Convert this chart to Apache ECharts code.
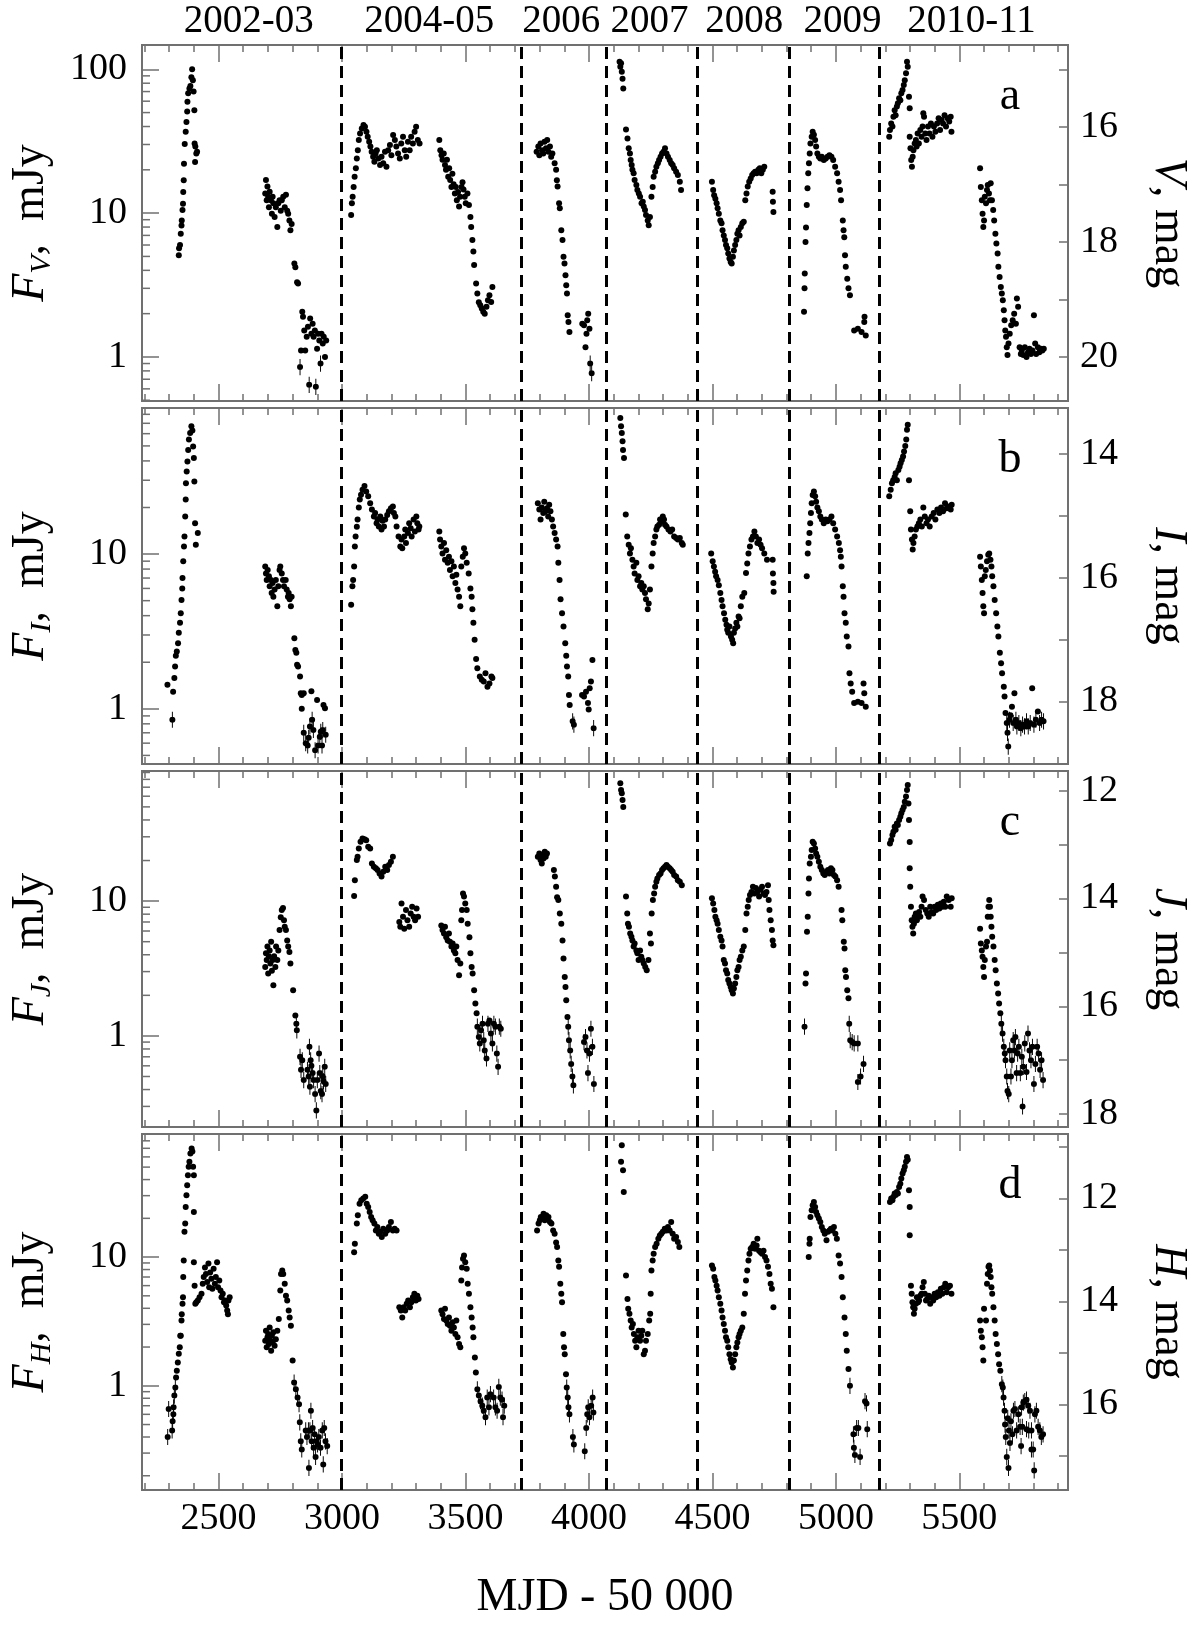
<!DOCTYPE html>
<html><head><meta charset="utf-8">
<script src="https://cdn.jsdelivr.net/npm/echarts@6/dist/echarts.min.js"></script>
<style>html,body{margin:0;padding:0;background:#fff}#c{width:1200px;height:1625px}</style>
</head><body><div id="c"></div>
<script>
// ---------- data: [MJD-50000, flux mJy] ----------
const vFlux = [
[2339,5.1],[2340,5.7],[2344,6.0],[2347,7.2],[2350,8.2],[2351,8.9],[2354,10.5],[2356,11.6],[2357,14],[2359,16.9],[2360,22],[2363,30.2],[2367,36.8],[2370,43],[2373,50.8],[2374,59.5],[2377,68],[2382,73.5],[2386,76.5],[2390,88],[2393,100],[2396,84],[2399,70],[2402,52],[2403,30.5],[2406,29],[2410,26],[2405,22.7],[2413,26.7],
[2689,13.7],[2692,17],[2695,12.3],[2698,15.3],[2701,13],[2704,11],[2707,14.1],[2712,12.3],[2716,9.9],[2719,13],[2722,11.7],[2727,9.4],[2732,11],[2738,8],[2742,11.7],[2747,12.3],[2752,10.4],[2756,12.3],[2762,13],[2768,11],[2773,13.4],[2778,10.4],[2782,9.9],[2787,8.9],[2791,7.6],[2796,8.4],
[2807,4.46],[2811,4.2],[2818,3.3],[2822,3.24],
[2830,0.85],[2834,1.11],[2839,2.06],[2842,1.9],[2847,1.53],[2851,1.11],[2857,1.38],[2862,1.62],[2867,0.64],[2871,1.85],[2876,1.45],[2881,1.7],[2885,1.38],[2890,1.53],[2894,0.62],[2899,1.14],[2903,1.45],[2908,1.3],[2913,0.9],[2917,1.45],[2922,1.24],[2926,1.38],[2931,1.0],[2936,1.3],
[3037,9.7],[3040,11.7],[3043,13],[3047,15.2],[3051,17.9],[3056,20.5],[3060,24],[3064,27.4],[3068,32.2],[3073,35.8],[3080,38.8],[3087,41],[3093,39.9],[3099,36.8],[3104,34],[3110,31.3],[3115,29],[3120,26.7],[3126,24.7],[3131,22.8],[3136,26],[3141,27.4],[3147,24],[3154,21.6],[3160,24.7],[3167,22.2],[3174,26.7],[3180,21],[3187,27.4],[3194,29.7],[3200,25.3],[3207,34.9],[3214,32.2],[3220,29],[3227,26],[3234,24],[3240,30.5],[3247,34],[3254,27.4],[3260,24.7],[3267,31.3],[3274,27.4],[3280,34],[3287,30.5],[3294,36.8],[3300,39.9],[3307,32.2],[3314,30.5],
[3394,32.2],[3398,27.4],[3403,25.3],[3407,23.5],[3412,26],[3417,21.6],[3421,20],[3425,23.5],[3430,17.9],[3434,20.5],[3438,17],[3443,15.2],[3447,18.8],[3452,15.9],[3457,13.7],[3461,15.2],[3465,12.3],[3470,14],[3474,11.1],[3478,13],[3484,15.2],[3488,16.4],[3492,14.6],[3497,13],[3501,11.7],[3508,13.7],[3514,11.4],[3520,9.4],[3523,8.0],[3528,6.5],[3532,5.4],[3535,4.35],[3543,3.24],[3548,2.76],[3554,2.4],[3560,2.29],[3566,2.17],[3572,2.06],[3578,2.0],[3585,2.23],[3591,2.48],[3597,2.69],[3604,2.41],[3609,3.07],
[3788,26.7],[3795,29],[3799,25.3],[3804,30.5],[3810,27.4],[3815,26],[3820,31.3],[3826,28.2],[3831,32.2],[3836,26.7],[3842,29],[3847,24.7],[3852,26],[3861,22.2],[3867,20],[3870,16.9],[3873,15.3],[3879,11.7],[3882,10.8],[3888,7.6],[3893,6.5],[3897,4.97],[3901,4.46],[3905,3.7],[3908,3.15],[3911,2.76],[3914,1.95],[3917,1.75],[3921,1.49],
[3973,1.7],[3980,1.66],[3986,1.17],[3990,1.45],[3993,1.8],[3997,2.0],[4002,1.57],[4005,0.9],[4011,0.77],
[4124,113],[4127,104],[4130,110],[4133,96],[4136,86],[4139,73.5],
[4150,38.2],[4156,33],[4161,28.2],[4166,26],[4169,23.4],[4173,21.6],[4176,20],[4181,18.9],[4185,17],[4192,15.7],[4196,14.5],[4202,13.7],[4207,13],[4213,11.7],[4218,12],[4222,11.1],[4227,10.5],[4231,9.7],[4238,8.9],[4242,8.25],[4247,9.4],[4253,13],[4258,15.2],[4262,17.9],[4268,19.4],[4273,21],[4279,22.2],[4284,23.4],[4290,24.7],[4296,26],[4302,26.7],[4308,28.2],[4314,26],[4320,24.7],[4327,23.4],[4333,22.2],[4339,21.6],[4345,20.5],[4353,19.4],[4360,18.4],[4368,16.5],[4373,14.5],
[4498,16.5],[4503,14.5],[4507,13.3],[4512,12.6],[4517,11.7],[4521,10.8],[4526,9.9],[4532,8.9],[4537,8.5],[4541,7.6],[4546,7.0],[4551,6.5],[4555,6.0],[4560,5.7],[4564,5.24],[4569,4.83],[4574,4.58],[4578,4.46],[4583,4.97],[4587,5.5],[4592,6.0],[4597,6.5],[4601,7.2],[4606,7.6],[4610,7.0],[4615,8.0],[4621,8.5],[4627,8.7],[4633,12.3],[4638,13.7],[4643,15.3],[4649,16.5],[4655,17.4],[4661,18.4],[4667,18.9],[4673,19.4],[4679,18.9],[4686,20],[4692,20.5],[4698,18.9],[4704,20],[4710,21],[4744,14.1],[4745,12],[4747,10.2],
[4871,2.06],[4873,3.0],[4874,3.8],[4877,6.3],[4879,7.95],[4882,11.4],[4885,14.9],[4888,18.9],[4891,22.2],[4894,26],[4897,30.5],[4902,34],[4906,36.8],[4911,35],[4916,32.2],[4920,29],[4925,26],[4931,24.7],[4937,24],[4943,24.7],[4951,23.4],[4959,24],[4966,24.7],[4974,25.3],[4982,24.7],[4989,23.4],[4997,21],[5005,18.9],[5011,16.5],[5017,14.5],[5021,12.3],[5028,8.9],[5031,7.6],[5034,6.8],[5037,5.1],[5040,4.23],[5046,3.5],[5051,3.0],[5057,2.69],[5074,1.53],[5089,1.57],[5104,1.49],[5115,1.75],[5116,1.9],[5121,1.41],
[5216,34],[5219,37.8],[5224,42],[5229,40],[5233,46.8],[5238,52],[5242,48],[5247,55],[5251,58],[5256,62.8],[5261,61],[5265,68],[5270,71.8],[5275,77.8],[5279,84],[5284,94],[5288,113],[5291,104],[5296,64.5],[5299,53.5],
[5299,34],[5302,28.2],[5305,23.4],[5308,21],[5311,24.7],[5314,27.4],[5319,30.5],[5324,32.2],[5327,29],[5331,35.8],[5336,30.5],[5342,37.8],[5347,34],[5351,40],[5354,49.4],[5357,46.8],[5362,35.8],[5367,32.2],[5373,40],[5379,35.8],[5385,42],[5391,34],[5397,40],[5403,36.8],[5410,42],[5416,45.6],[5422,37.8],[5428,44.4],[5434,42],[5440,48],[5446,40],[5452,45.6],[5459,43.3],[5465,46.8],[5468,36.8],
[5584,20.5],[5587,15.2],[5591,12.3],[5594,9.9],[5597,8.0],[5600,8.9],[5603,13],[5608,11.7],[5612,14.5],[5615,15.7],[5620,13.7],[5624,12.3],[5627,16.1],[5632,12.3],[5637,10.5],[5641,8.9],[5646,7.2],[5650,6.15],[5655,5.24],[5658,4.23],[5663,3.6],[5668,3.07],[5672,2.76],[5676,2.48],[5680,2.11],[5683,1.8],[5686,1.53],[5689,1.38],[5692,1.17],[5695,1.03],[5699,1.24],[5704,1.45],[5710,1.66],[5716,1.8],[5722,2.0],[5729,1.7],[5733,2.55],[5738,2.23],[5744,1.17],[5749,1.05],[5753,1.11],[5759,1.03],[5765,1.17],[5772,1.0],[5778,1.08],[5784,1.14],[5790,1.05],[5796,1.11],[5802,1.95],[5807,1.24],[5811,1.05],[5818,1.17],[5824,1.08],[5830,1.14],[5836,1.11],[5842,1.14]
];
const iFlux = [
[2293,1.43],[2313,0.85],[2316,1.29],[2321,1.58],[2324,1.88],[2327,2.2],[2331,2.35],[2336,2.65],[2339,3.1],[2344,3.6],[2347,4.15],[2350,5.05],[2353,6.0],[2354,7.0],[2357,9.0],[2360,11.2],[2362,13],[2365,17.5],[2367,22.5],[2368,28.7],[2371,34.2],[2374,39.7],[2377,47],[2380,55],[2385,60.5],[2390,67],[2394,63],[2397,49.5],[2400,41.8],[2402,29.5],[2405,15.8],[2408,11.5],[2416,13.7],
[2689,8.3],[2692,7.5],[2695,6.8],[2699,7.9],[2704,7.2],[2707,6.2],[2712,6.8],[2715,5.6],[2719,6.5],[2722,5.3],[2727,5.9],[2732,6.8],[2738,4.6],[2742,6.2],[2747,7.9],[2750,8.3],[2756,7.5],[2761,6.8],[2765,6.2],[2772,6.8],[2776,5.9],[2781,5.3],[2784,5.6],[2788,5.1],[2793,4.6],[2796,5.3],
[2807,2.86],[2811,2.4],[2815,2.3],[2818,1.93],[2822,1.88],[2830,1.62],[2833,1.26],[2837,1.23],[2845,1.26],
[2837,1.0],[2845,0.7],[2853,0.6],[2861,0.58],[2865,0.65],[2870,0.77],[2876,1.3],[2879,0.85],[2884,0.73],[2891,0.54],[2899,1.14],[2903,0.58],[2910,0.66],[2914,0.71],[2919,0.58],[2922,0.73],[2925,1.06],[2931,1.01],[2934,0.68],
[3037,4.7],[3042,6.2],[3045,6.8],[3049,8.3],[3052,11.2],[3055,13],[3060,15],[3063,16.7],[3068,20],[3072,22.5],[3077,24.2],[3083,26],[3091,27.5],[3098,25.4],[3106,23.6],[3114,21.3],[3121,19.4],[3129,17.5],[3134,18.4],[3140,15.8],[3144,16.7],[3149,15.1],[3155,17.5],[3160,14.4],[3164,16.4],[3170,15.1],[3175,16.7],[3183,17.9],[3190,18.9],[3198,19.8],[3206,20.3],[3210,18.4],[3216,17.5],
[3221,15.1],[3229,13],[3236,11.2],[3241,12.4],[3244,10.9],[3252,13],[3256,14.4],[3259,11.8],[3267,13.7],[3272,15.8],[3278,14.7],[3282,13],[3290,16.7],[3295,14],[3301,17.5],[3305,15.8],[3310,14.4],[3313,15.1],
[3394,14],[3397,12.4],[3402,11.2],[3407,10.1],[3413,11.8],[3417,9.2],[3422,10.6],[3428,8.8],[3433,9.6],[3437,7.9],[3443,9.0],[3448,7.2],[3453,8.3],[3459,6.5],[3463,7.35],[3468,5.9],[3474,5.3],[3479,4.6],[3483,8.3],[3489,9.6],[3494,10.9],[3499,10.1],[3505,8.8],[3513,7.5],[3520,6.0],[3525,5.3],[3528,4.4],[3532,3.6],[3537,2.8],[3543,2.1],[3548,1.83],[3558,1.62],[3566,1.54],[3574,1.5],[3581,1.7],[3589,1.39],[3597,1.46],[3605,1.62],[3609,1.58],
[3793,21.3],[3799,19.4],[3804,16.7],[3809,20],[3815,18.4],[3819,21.8],[3824,18.9],[3830,19.8],[3835,17.5],[3839,20.8],[3844,18.9],[3850,16.7],[3855,15.1],[3861,13.7],[3867,12.4],[3873,11.2],[3876,8.8],[3881,6.8],[3885,5.1],[3891,4.15],[3897,3.4],[3904,2.65],[3908,2.2],[3911,1.88],[3916,1.62],[3919,1.23],[3922,1.06],[3934,0.83],[3939,0.79],
[3972,1.23],[3980,1.2],[3988,1.29],[3996,1.09],[3999,0.99],[4003,1.36],[4008,1.5],[4014,2.07],[4019,0.75],
[4127,75.7],[4130,67],[4133,60.5],[4136,53.5],[4138,47],[4142,41.8],
[4149,18],[4155,13],[4161,11.5],[4166,10.1],[4170,10.9],[4176,9.2],[4181,8.3],[4185,7.5],[4192,8.8],[4196,6.8],[4201,7.2],[4207,6.2],[4212,6.5],[4216,5.9],[4222,6.2],[4227,5.6],[4231,5.1],[4238,4.4],[4242,4.8],[4247,5.9],[4253,8.3],[4258,10.1],[4262,11.8],[4268,13],[4273,14.4],[4277,15.1],[4284,15.5],[4288,16.7],[4293,16.3],[4299,17.5],[4304,16.7],[4308,15.5],[4314,15.1],[4322,14.4],[4330,14],[4337,14.4],[4345,13],[4353,12.7],[4360,12.4],[4368,12.7],[4376,11.8],[4380,11.5],
[4495,10.1],[4501,9.0],[4506,8.3],[4511,7.7],[4515,7.2],[4521,6.8],[4526,6.3],[4532,5.6],[4537,5.05],[4541,4.6],[4547,4.15],[4552,3.76],[4557,3.5],[4560,3.24],[4564,3.1],[4569,3.4],[4575,2.93],[4580,2.8],[4584,2.65],[4587,3.1],[4592,3.3],[4597,3.6],[4601,3.4],[4606,3.95],[4610,3.85],[4615,4.6],[4621,5.3],[4629,5.6],[4636,7.55],[4641,8.7],[4646,10.1],[4652,11.2],[4658,12.4],[4664,13],[4670,14],[4676,13],[4682,11.8],[4689,12.4],[4695,11.5],[4701,10.9],[4710,10.1],[4721,9.2],[4744,9.2],[4745,7.5],[4747,6.5],[4748,5.7],
[4882,7.2],[4886,10.1],[4889,11.8],[4893,13.7],[4896,15.8],[4899,18.4],[4902,21.3],[4906,24.1],[4911,25.4],[4916,23.6],[4920,21.8],[4925,20],[4931,18.9],[4937,17.5],[4943,16.7],[4951,15.8],[4959,16.7],[4966,16.3],[4974,16.7],[4982,17.5],[4989,15.8],[4997,14.4],[5005,13],[5012,11.8],[5017,10.6],[5020,9.6],[5023,8.3],[5028,6.2],[5031,5.3],[5035,4.15],[5040,3.6],[5044,2.93],[5051,2.53],[5055,1.7],[5060,1.46],[5066,1.29],[5074,1.09],[5089,1.11],[5104,1.09],[5112,1.46],[5115,1.26],[5121,1.03],
[5216,23.6],[5222,26],[5227,28.7],[5232,30],[5238,31.5],[5242,33.3],[5247,30],[5253,34.9],[5258,36.7],[5262,38.6],[5267,40.6],[5272,42.7],[5276,46],[5281,50],[5285,55],[5288,63.5],[5291,68.5],[5296,30],[5301,18.9],[5304,14.4],[5308,12.4],[5311,10.7],[5314,11.8],[5319,13],[5324,14.4],[5330,15.1],[5336,15.8],[5342,16.7],[5348,15.1],[5354,20],[5360,17.5],[5367,15.8],[5373,16.7],[5380,15.1],[5388,17.5],[5396,18.4],[5403,16.7],[5411,19.4],[5419,18.4],[5426,20],[5434,18.9],[5442,21.3],[5449,19.8],[5457,20.3],[5465,19.4],[5469,20.8],
[5584,9.6],[5587,8.3],[5591,6.8],[5594,5.6],[5597,4.6],[5600,4.15],[5603,7.2],[5607,7.9],[5612,9.0],[5617,9.9],[5621,10.1],[5626,9.2],[5630,8.3],[5633,7.2],[5638,6.2],[5643,5.05],[5649,4.15],[5654,3.4],[5658,2.93],[5664,2.3],[5669,1.97],[5673,1.7],[5680,1.39],[5683,1.2],[5687,0.94],[5692,0.81],[5695,0.7],[5698,0.57],[5703,0.85],[5707,0.91],[5713,1.03],[5718,0.81],[5723,1.26],[5729,0.85],[5733,0.77],[5741,0.81],[5749,0.75],[5756,0.79],[5764,0.77],[5772,0.83],[5779,0.77],[5787,0.81],[5795,1.36],[5802,0.79],[5810,0.85],[5818,0.96],[5825,0.81],[5833,0.85],[5841,0.83]
];
const jFlux = [
[2689,3.25],[2692,4.1],[2695,3.65],[2698,4.6],[2701,2.9],[2704,3.9],[2707,4.3],[2710,3.45],[2713,5.0],[2716,3.05],[2719,3.65],[2722,2.38],[2725,3.9],[2730,3.25],[2733,4.6],[2738,3.65],[2742,4.3],[2747,6.1],[2752,7.6],[2756,8.6],[2761,8.9],[2765,7.2],[2768,6.45],[2773,6.1],[2778,5.1],[2782,4.6],[2787,4.2],[2791,3.45],[2802,2.18],[2811,1.42],[2815,1.23],[2817,1.1],
[2830,0.70],[2834,0.56],[2839,0.66],[2845,0.47],[2860,0.56],[2865,0.5],[2868,0.83],[2870,0.42],[2873,0.66],[2876,0.6],[2881,0.53],[2885,0.47],[2891,0.37],[2896,0.28],[2900,0.47],[2907,0.74],[2910,0.53],[2914,0.39],[2919,0.37],[2922,0.5],[2925,0.46],[2930,0.59],[2934,0.44],
[3049,10.9],[3052,14.3],[3060,20.2],[3063,21.3],[3068,24.6],[3075,27.6],[3083,29.2],[3091,28.8],[3098,28.3],[3106,25.3],[3114,24.6],[3121,19],[3129,18],[3137,17.5],[3144,17],[3152,16],[3160,15.2],[3167,16.5],[3175,18],[3183,17],[3190,18.5],[3198,19.6],[3206,21.3],
[3232,7.0],[3236,6.45],[3241,9.6],[3247,7.65],[3252,6.25],[3259,8.6],[3265,7.2],[3272,6.45],[3278,8.1],[3284,9.1],[3290,7.65],[3296,7.2],[3302,8.8],[3308,7.65],
[3402,6.6],[3407,6.1],[3413,5.75],[3417,6.45],[3422,5.4],[3428,5.1],[3433,5.75],[3437,5.0],[3443,4.6],[3448,4.85],[3453,4.3],[3459,4.1],[3463,4.6],[3468,3.65],[3474,2.82],[3479,3.45],[3483,7.2],[3486,8.6],[3490,11.4],[3494,10.8],[3499,9.6],[3505,8.6],[3509,6.8],[3516,5.4],[3520,4.1],[3525,3.25],[3529,2.9],[3535,2.18],[3540,1.74],[3545,1.47],[3548,1.17],[3554,0.98],[3558,0.88],[3563,1.1],[3569,1.23],[3574,0.93],[3578,0.78],[3585,0.68],[3591,1.23],[3597,1.3],[3603,1.04],[3609,0.88],[3615,1.23],[3621,1.17],[3627,0.74],[3632,0.59],[3637,1.17],[3643,1.13],
[3793,21.3],[3799,22.6],[3804,20.2],[3809,19],[3812,22],[3816,20.7],[3821,23.2],[3825,21.3],[3830,22.6],[3858,17],[3862,15.2],[3867,12.8],[3871,10.7],[3876,10.2],[3882,8.1],[3888,6.8],[3893,5.1],[3897,3.75],[3902,2.74],[3905,2.31],[3908,1.84],[3913,1.38],[3916,1.17],[3919,0.93],[3924,0.78],[3928,0.62],[3933,0.5],[3937,0.43],
[3980,0.9],[3986,0.98],[3992,0.78],[3996,0.53],[4002,0.74],[4008,1.13],[4014,0.83],[4020,0.44],
[4127,74.8],[4130,66.7],[4133,63],[4136,56.3],[4139,50],
[4150,10.8],[4155,8.1],[4158,6.8],[4162,6.45],[4167,5.75],[4172,5.43],[4176,5.1],[4181,4.6],[4185,4.85],[4192,4.3],[4196,4.1],[4201,3.65],[4207,4.3],[4212,3.87],[4216,3.65],[4222,3.45],[4228,3.25],[4234,3.07],[4241,3.65],[4247,5.75],[4251,4.85],[4254,8.1],[4259,10.2],[4264,11.4],[4268,12.8],[4273,13.9],[4277,14.7],[4284,15.6],[4290,16],[4296,17],[4302,17.5],[4308,18],[4314,18.5],[4320,18],[4327,17.5],[4333,17],[4339,16.5],[4345,15.6],[4353,15.2],[4360,14.3],[4368,13.9],[4376,13.1],
[4498,10.5],[4503,9.6],[4508,8.6],[4512,7.65],[4517,7.2],[4521,6.8],[4526,6.1],[4532,5.43],[4537,5.1],[4541,4.6],[4546,3.65],[4551,3.45],[4555,3.07],[4560,2.9],[4564,2.6],[4569,2.45],[4574,2.31],[4578,2.18],[4583,2.06],[4587,2.25],[4592,2.45],[4597,2.74],[4601,3.07],[4606,3.25],[4610,3.65],[4615,3.87],[4621,4.3],[4627,4.6],[4633,6.1],[4638,8.1],[4643,9.1],[4647,10.2],[4652,11.1],[4658,11.7],[4664,12.8],[4670,11.4],[4676,12.5],[4682,11.7],[4689,10.8],[4695,12.2],[4701,12.8],[4707,11.4],[4713,11.1],[4719,11.7],[4725,13.1],[4728,10.2],[4731,8.6],[4736,7.2],[4741,6.1],[4744,5.1],[4747,4.7],
[4873,1.17],[4877,2.45],[4879,2.9],[4883,5.92],[4886,7.65],[4889,11.4],[4891,14.7],[4894,19],[4899,21.3],[4902,23.9],[4906,27.6],[4911,26.8],[4916,24.6],[4920,22.6],[4925,21.3],[4931,19.6],[4937,18],[4943,17],[4949,16],[4955,15.6],[4962,16.5],[4968,17],[4974,16],[4980,17.5],[4986,17],[4992,15.6],[4998,15.2],[5005,14.3],[5011,12.8],[5023,8.6],[5026,7.2],[5032,5.0],[5035,4.45],[5038,3.07],[5041,2.74],[5046,2.18],[5051,1.9],[5054,1.23],[5058,0.93],[5066,0.9],[5074,0.88],[5089,0.88],[5089,0.455],[5100,0.5],[5112,0.62],
[5219,26.8],[5224,28.4],[5229,30.9],[5233,32.7],[5238,35.6],[5242,33.8],[5247,37.7],[5251,36.7],[5256,40],[5261,42.3],[5265,44.8],[5270,47.4],[5275,50],[5279,54.7],[5284,59.6],[5288,66.7],[5291,72.6],[5294,53],[5296,40],[5299,27.5],[5299,17.5],[5301,12.8],[5304,9.1],[5307,7.2],[5310,6.45],[5313,5.75],[5316,6.8],[5319,7.65],[5324,8.1],[5328,7.2],[5333,7.65],[5337,8.3],[5342,7.65],[5347,9.1],[5351,10.8],[5357,10.2],[5364,8.6],[5370,8.1],[5376,7.65],[5382,9.1],[5388,8.3],[5394,8.1],[5400,9.1],[5406,8.6],[5413,9.4],[5419,8.8],[5425,9.6],[5431,9.1],[5437,9.9],[5443,9.1],[5449,10.8],[5457,10.2],[5465,9.1],[5469,10.5],
[5584,6.25],[5587,4.85],[5591,4.3],[5594,3.87],[5597,3.25],[5600,2.74],[5603,3.65],[5608,4.6],[5612,5.0],[5615,7.65],[5618,9.1],[5621,10.2],[5624,9.1],[5627,7.65],[5630,6.45],[5633,5.43],[5638,4.6],[5643,3.65],[5647,3.07],[5652,2.45],[5657,2.06],[5661,1.74],[5666,1.47],[5670,1.23],[5675,1.04],[5680,0.83],[5684,0.74],[5687,0.66],[5692,0.5],[5695,0.39],[5700,0.37],[5704,0.78],[5709,0.5],[5713,0.66],[5718,0.93],[5723,0.78],[5727,0.98],[5732,0.53],[5736,0.74],[5741,0.83],[5747,0.53],[5753,0.7],[5756,0.3],[5759,0.59],[5765,0.88],[5772,0.54],[5778,1.04],[5784,0.78],[5790,0.66],[5796,0.83],[5802,0.44],[5808,0.62],[5815,0.83],[5821,0.74],[5827,0.56],[5833,0.66],[5839,0.47]
];
const hFlux = [
[2294,0.40],[2298,0.66],[2312,0.45],[2314,0.53],[2317,0.6],[2318,0.68],[2321,0.84],[2325,0.97],[2328,1.16],[2331,1.31],[2335,1.52],[2339,1.77],[2343,1.99],[2345,2.45],
[2347,2.45],[2350,3.21],[2351,3.6],[2354,4.33],[2356,4.88],[2357,7.0],[2359,9.4],[2362,15.7],[2365,18.2],[2367,24.5],[2370,30.2],[2373,36.2],[2376,43.3],[2379,50.3],[2382,55],[2386,63.8],[2391,69.8],[2394,66],[2397,50.3],[2400,43.3],[2400,22.4],
[2400,9.1],[2403,6.0],[2406,4.33],[2410,4.46],[2416,4.6],[2423,4.88],[2431,5.18],[2436,6.2],[2440,7.0],[2445,8.3],[2449,7.4],[2454,6.4],[2459,8.9],[2462,5.84],[2466,7.6],[2471,6.8],[2475,5.67],[2480,8.1],[2485,6.2],[2489,7.0],[2494,9.1],[2498,5.84],[2503,6.58],[2508,5.5],[2512,4.88],[2517,5.18],[2522,4.46],[2526,4.6],[2531,4.2],[2535,3.84],[2538,3.6],[2540,4.6],[2545,4.88],
[2689,2.24],[2692,2.68],[2695,1.99],[2698,2.38],[2701,2.53],[2704,2.11],[2707,2.84],[2710,2.24],[2713,1.87],[2716,2.45],[2719,2.18],[2722,2.6],[2727,2.05],[2732,2.3],[2738,2.68],[2744,3.3],[2750,5.5],[2753,7.4],[2758,7.87],[2762,7.4],[2768,6.2],[2773,5.0],[2778,4.6],[2784,3.84],[2788,3.4],[2793,2.93],[2800,1.57],
[2806,1.06],[2813,0.94],[2820,0.81],[2826,0.72],[2829,0.52],[2833,0.37],[2837,0.32],[2853,0.45],[2858,0.4],[2864,0.45],[2866,0.23],[2870,0.45],[2874,0.64],[2877,0.37],[2881,0.47],[2885,0.33],[2889,0.42],[2893,0.28],[2897,0.37],[2901,0.35],[2906,0.4],[2913,0.33],[2920,0.45],[2924,0.245],[2928,0.47],[2933,0.37],[2940,0.34],
[3049,10.9],[3052,12.7],[3060,18.2],[3064,21.1],[3071,26],[3078,27.6],[3086,28.5],[3094,29.4],[3100,26],[3106,24.5],[3112,22.4],[3118,20.5],[3124,19.3],[3131,18.2],[3137,16.1],[3143,17.1],[3149,15.2],[3155,15.7],[3161,14.3],[3167,16.6],[3175,15.2],[3183,16.1],[3190,17.1],[3198,18.7],[3206,16.1],[3213,16.6],[3221,16.1],
[3232,4.08],[3238,3.84],[3244,3.4],[3250,4.08],[3256,3.84],[3262,4.33],[3268,4.6],[3275,4.08],[3281,4.46],[3287,4.88],[3293,5.18],[3299,4.6],[3305,5.0],[3310,4.72],
[3402,3.84],[3407,3.6],[3413,3.3],[3417,3.96],[3422,3.21],[3428,3.02],[3433,3.4],[3437,2.93],[3443,2.68],[3448,3.11],[3453,2.84],[3459,2.53],[3463,3.21],[3468,2.38],[3474,2.11],[3479,1.99],[3483,6.58],[3486,8.3],[3490,9.7],[3494,10.3],[3499,9.1],[3505,8.1],[3509,6.2],[3514,5.18],[3520,4.08],[3525,3.4],[3529,2.84],[3532,2.38],[3538,1.66],[3542,1.27],[3548,0.94],[3554,0.84],[3561,0.76],[3568,0.70],[3574,0.64],[3581,0.57],[3588,0.81],[3595,0.68],[3601,0.86],[3614,0.81],[3621,0.68],[3628,0.64],[3635,0.98],[3641,0.81],[3648,0.78],[3652,0.57],[3657,0.7],
[3790,16.1],[3796,18.2],[3801,19.3],[3805,20.5],[3812,19.9],[3816,21.7],[3821,19.3],[3827,21.1],[3832,19.9],[3836,20.5],[3842,18.7],[3848,18.2],[3855,16.1],[3861,15.2],[3867,13],[3871,12],[3876,9.4],[3879,8.4],[3884,6.2],[3888,5.18],[3891,4.46],[3896,2.53],[3899,1.99],[3902,1.76],[3907,1.23],[3910,0.97],[3914,0.81],[3917,0.68],[3921,0.6],[3935,0.4],[3939,0.35],
[3983,0.31],[3989,0.47],[3993,0.6],[3997,0.68],[4002,0.57],[4009,0.7],[4015,0.81],[4018,0.62],
[4130,55],[4133,74],[4138,47.3],[4141,32.1],
[4150,7.2],[4156,4.73],[4159,3.96],[4164,3.62],[4169,3.21],[4173,2.84],[4178,3.02],[4182,2.53],[4187,2.24],[4192,1.99],[4196,2.38],[4201,2.68],[4207,2.24],[4212,2.45],[4216,2.68],[4222,1.76],[4227,1.87],[4231,2.24],[4238,2.53],[4244,3.21],[4248,3.62],[4250,5.18],[4253,7.87],[4258,9.4],[4262,10.6],[4268,12],[4274,12.7],[4281,13.9],[4287,14.7],[4293,15.2],[4299,15.7],[4307,16.6],[4314,16.1],[4320,17.1],[4327,16.1],[4333,18.7],[4339,15.2],[4345,13.9],[4353,14.3],[4360,13.1],[4366,12],
[4498,8.6],[4503,8.1],[4508,7.0],[4512,6.58],[4517,6.0],[4521,5.5],[4526,4.88],[4532,4.33],[4537,3.84],[4541,3.4],[4546,3.02],[4551,2.68],[4555,2.38],[4560,2.24],[4564,1.99],[4569,1.76],[4574,1.61],[4578,1.52],[4583,1.39],[4587,1.57],[4592,1.76],[4597,1.99],[4601,2.17],[4606,2.38],[4610,2.53],[4615,2.68],[4621,2.84],[4627,3.62],[4632,5.18],[4636,6.58],[4641,7.87],[4646,9.4],[4650,10.6],[4655,11.6],[4661,12],[4667,12.7],[4673,11.6],[4679,12.3],[4682,13.9],[4689,11.2],[4695,10.9],[4701,10.6],[4707,11.2],[4713,10],[4719,9.4],[4725,8.4],[4731,7.4],[4736,6.2],[4741,5.67],[4747,4.08],
[4890,10],[4893,12.7],[4894,13.9],[4897,20.5],[4902,23.1],[4906,25.3],[4911,26.8],[4916,24.5],[4920,22.4],[4925,21.1],[4931,19.9],[4937,18.7],[4943,17.1],[4949,16.1],[4955,15.2],[4962,13.5],[4968,15.7],[4974,16.1],[4980,16.6],[4986,16.1],[4992,17.1],[4998,15.2],[5004,13.9],[5011,10.3],[5017,8.9],[5023,7.0],[5028,4.88],[5035,3.4],[5040,2.53],[5044,1.87],[5051,1.35],[5057,1.0],
[5071,0.42],[5073,0.33],[5077,0.29],[5084,0.47],[5091,0.47],[5098,0.28],[5118,0.76],[5124,0.73],[5127,0.46],
[5219,26.8],[5224,28.5],[5229,27.6],[5233,29.4],[5238,31.2],[5242,30.3],[5247,32.1],[5251,31.2],[5256,35.1],[5261,37.2],[5265,40.7],[5270,44.6],[5275,47.3],[5279,50.3],[5284,55],[5288,60],[5291,57],[5296,33],[5299,24.5],[5299,14.8],
[5304,6.0],[5307,5.18],[5310,4.46],[5313,4.08],[5316,3.62],[5319,3.96],[5324,4.33],[5328,4.88],[5333,4.46],[5337,4.6],[5342,5.0],[5347,5.18],[5351,5.84],[5356,6.4],[5360,5.18],[5365,4.6],[5370,4.72],[5376,5.0],[5382,4.33],[5388,4.88],[5394,4.6],[5400,5.18],[5406,4.88],[5413,5.34],[5419,5.0],[5425,5.67],[5431,5.18],[5437,5.84],[5443,6.2],[5449,5.34],[5455,5.84],[5462,6.0],[5468,5.18],
[5584,3.21],[5587,2.68],[5591,2.38],[5594,1.99],[5597,1.57],[5600,3.96],[5608,3.21],[5612,6.2],[5615,7.4],[5618,8.4],[5621,8.6],[5624,7.87],[5627,7.0],[5630,5.84],[5633,5.18],[5638,4.08],[5643,3.21],[5647,2.53],[5652,2.11],[5657,1.76],[5661,1.47],[5666,1.31],[5672,1.03],[5676,0.97],
[5679,0.81],[5683,0.64],[5685,0.5],[5688,0.4],[5692,0.28],[5696,0.56],[5699,0.23],[5701,0.45],[5705,0.36],[5709,0.53],[5715,0.42],[5719,0.64],[5725,0.66],[5732,0.45],[5739,0.6],[5746,0.48],[5750,0.34],[5752,0.68],[5755,0.48],[5759,0.74],[5765,0.76],[5772,0.78],[5772,0.46],[5779,0.7],[5781,0.45],[5786,0.64],[5792,0.45],[5792,0.32],[5799,0.32],[5803,0.22],[5806,0.6],[5812,0.64],[5819,0.48],[5826,0.45],[5832,0.4],[5839,0.42]
];
// season dividers and top labels (MJD-50000)
const seasonBounds = [2995, 3727, 4071, 4438, 4811, 5174];
const seasonNames = ['2002-03','2004-05','2006','2007','2008','2009','2010-11'];
const seasonCentres = [2622, 3353, 3888, 4245, 4629, 5027, 5549];
// axis settings
const xRange = [2190, 5940];
const bandNames = ['V','I','J','H'];
const panelLetters = ['a','b','c','d'];
const fluxMin = [0.494, 0.44, 0.211, 0.155];
const fluxMax = [147.5, 87.9, 92.3, 90.4];
const magAt1mJy = [20, 18.12, 16.55, 15.64];
// fluxes below which the plotted points carry visible error bars
const errBarBelow = [1.0, 0.9, 1.3, 1.1];

// ---------- chart ----------
const FONT = 'Liberation Serif';
const TOPS = [45, 408, 771, 1134], PH = 356;
const AXC = '#707070';
const tickStyle = {color: AXC, width: 1.5};
const datasets = [vFlux, iFlux, jFlux, hFlux];
const grid = [], xAxis = [], yAxis = [], series = [];
// dot with a vertical error bar (circle and bar wound the same way so they merge)
const ERR_SYMBOL = 'path://M-1,0 A1,1 0 1,1 1,0 A1,1 0 1,1 -1,0 Z M-0.16,-2.7 L0.16,-2.7 L0.16,2.7 L-0.16,2.7 Z';

function nameStyle(){
  return {fontFamily: FONT, fontSize: 46, color: '#000',
    rich: {
      it: {fontFamily: FONT, fontSize: 46, fontStyle: 'italic', color:'#000'},
      sub:{fontFamily: FONT, fontSize: 30, fontStyle: 'italic', color:'#000', padding:[22,0,0,0]},
      n:  {fontFamily: FONT, fontSize: 46, color:'#000'}
    }};
}

for (let i = 0; i < 4; i++) {
  grid.push({left: 132, right: 132, top: TOPS[i], height: PH, show: true,
    borderColor: AXC, borderWidth: 2, backgroundColor: 'rgba(0,0,0,0)'});
  const xBase = {type: 'value', gridIndex: i, min: xRange[0], max: xRange[1], splitNumber: 7,
    axisLine: {show: false}, splitLine: {show: false},
    axisTick: {show: true, inside: true, length: 17, lineStyle: tickStyle},
    minorTick: {show: true, splitNumber: 5, length: 7, lineStyle: tickStyle}};
  xAxis.push(Object.assign({}, xBase, {position: 'bottom',
    axisLabel: {show: i === 3, showMinLabel: false, showMaxLabel: false, margin: 10,
      fontFamily: FONT, fontSize: 38, color: '#000', formatter: v => String(v)},
    name: i === 3 ? 'MJD - 50 000' : '', nameLocation: 'middle', nameGap: 85,
    nameTextStyle: {fontFamily: FONT, fontSize: 46, color: '#000'}}));
  xAxis.push(Object.assign({}, xBase, {position: 'top', axisLabel: {show: false}}));

  const magTop = magAt1mJy[i] - 2.5 * Math.log10(fluxMax[i]);
  const magBot = magAt1mJy[i] - 2.5 * Math.log10(fluxMin[i]);
  yAxis.push({type: 'log', logBase: 10, gridIndex: i, position: 'left',
    min: fluxMin[i], max: fluxMax[i],
    axisLine: {show: false}, splitLine: {show: false},
    axisTick: {show: true, inside: true, length: 17, lineStyle: tickStyle},
    axisLabel: {showMinLabel: false, showMaxLabel: false, margin: 15,
      fontFamily: FONT, fontSize: 38, color: '#000'},
    name: '{it|F}{sub|' + bandNames[i] + '}{n|,  mJy}', nameLocation: 'middle',
    nameGap: 85, nameRotate: 90, nameTextStyle: nameStyle()});
  yAxis.push({type: 'value', gridIndex: i, position: 'right', inverse: true,
    min: magTop, max: magBot, splitNumber: 3,
    axisLine: {show: false}, splitLine: {show: false},
    axisTick: {show: true, inside: true, length: 9, lineStyle: tickStyle},
    minorTick: {show: true, splitNumber: 2, length: 9, lineStyle: tickStyle},
    axisLabel: {showMinLabel: false, showMaxLabel: false, margin: 12,
      fontFamily: FONT, fontSize: 38, color: '#000'},
    name: '{it|' + bandNames[i] + '}{n|, mag}', nameLocation: 'middle',
    nameGap: 77, nameRotate: -90, nameTextStyle: nameStyle()});

  const pts = datasets[i].map(d => d[1] < errBarBelow[i]
    ? {value: d, symbol: ERR_SYMBOL, symbolSize: [6, 16.2]}
    : {value: d});
  series.push({type: 'scatter', xAxisIndex: 2*i, yAxisIndex: 2*i, data: pts,
    symbol: 'circle', symbolSize: 6, symbolKeepAspect: false,
    itemStyle: {color: '#000', opacity: 1}, silent: true,
    markLine: {silent: true, symbol: ['none','none'], label: {show: false},
      lineStyle: {color: '#000', width: 3, type: [12, 7], opacity: 1},
      data: seasonBounds.map(v => ({xAxis: v}))}});

  // log minor ticks (2..9 x decade) on the left flux axis
  const minors = [];
  for (let k = -1; k <= 2; k++) for (let m = 2; m <= 9; m++) {
    const v = m * Math.pow(10, k);
    if (v > fluxMin[i] && v < fluxMax[i]) minors.push([xRange[0], v]);
  }
  series.push({type: 'custom', xAxisIndex: 2*i, yAxisIndex: 2*i, data: minors, clip: false, silent: true,
    renderItem: function(params, api){
      const p = api.coord([api.value(0), api.value(1)]);
      return {type: 'line', shape: {x1: p[0], y1: p[1], x2: p[0] + 8, y2: p[1]},
        style: {stroke: AXC, lineWidth: 1.5}};
    }});

  // panel letter
  series.push({type: 'custom', xAxisIndex: 2*i, yAxisIndex: 2*i, clip: false, silent: true,
    data: [[xRange[1], fluxMax[i]]],
    renderItem: function(params, api){
      const p = api.coord([api.value(0), api.value(1)]);
      return {type: 'text', x: p[0] - 58, y: p[1] + 52,
        style: {text: panelLetters[i], font: '46px "Liberation Serif"', fill: '#000', align: 'center', verticalAlign: 'middle'}};
    }});
}

// season labels above top panel
series.push({type: 'custom', xAxisIndex: 0, yAxisIndex: 0, clip: false, silent: true,
  data: seasonCentres.map(x => [x, fluxMax[0]]),
  renderItem: function(params, api){
    const p = api.coord([api.value(0), api.value(1)]);
    return {type: 'text', x: p[0], y: p[1] - 23,
      style: {text: seasonNames[params.dataIndex], font: '39px "Liberation Serif"', fill: '#000',
        align: 'center', verticalAlign: 'middle'}};
  }});

const chart = echarts.init(document.getElementById('c'), null, {renderer: 'canvas'});
chart.setOption({animation: false, backgroundColor: '#fff', grid, xAxis, yAxis, series});
</script>
</body></html>
